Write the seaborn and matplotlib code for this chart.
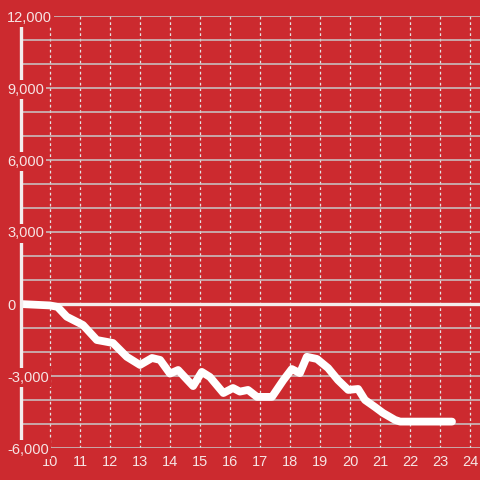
import matplotlib
matplotlib.use("Agg")
import matplotlib.pyplot as plt
import seaborn as sns
import pandas as pd
import numpy as np

# values
hours = [9.0, 10.0, 10.25, 10.56, 11.1, 11.56, 12.1, 12.56, 13.0, 13.4, 13.67,
         14.0, 14.27, 14.77, 15.06, 15.33, 15.78, 16.1, 16.33, 16.6, 16.9,
         17.4, 17.78, 18.06, 18.33, 18.56, 18.9, 19.27, 19.6, 19.94, 20.27,
         20.5, 20.83, 21.1, 21.5, 21.67, 23.4]
balance = [0, -60, -120, -530, -875, -1500, -1625, -2200, -2540, -2250, -2330,
           -2900, -2750, -3420, -2830, -3040, -3710, -3500, -3650, -3580, -3870,
           -3870, -3170, -2710, -2880, -2200, -2290, -2670, -3170, -3580, -3540,
           -4000, -4290, -4540, -4830, -4900, -4900]
x_ticks = list(range(10, 25))
y_ticks = [-6000, -3000, 0, 3000, 6000, 9000, 12000]

bg = "#cc2a2f"
txt = "#f6e4e4"

df = pd.DataFrame({"hour": hours, "balance": balance})

sns.set_style("white")
plt.rcParams["font.family"] = ["Liberation Sans", "DejaVu Sans"]

fig = plt.figure(figsize=(4.8, 4.8), dpi=100, facecolor=bg)
ax = fig.add_axes([20 / 480, 1 - 448 / 480, 1 - 20 / 480, 432 / 480])
ax.set_facecolor(bg)

# horizontal grid every 1000
for v in np.arange(-6000, 12001, 1000):
    ax.axhline(v, color="#c9c9c9", lw=1.1, zorder=0.6)
ax.axhline(0, color="#f3eded", lw=2.4, zorder=1.5)

sns.lineplot(data=df, x="hour", y="balance", color="white", lw=5.6,
             ax=ax, zorder=2)

ax.set_xlim(9, 9 + 460 / 30)
ax.set_ylim(-6000, 12000)
ax.set_xticks(x_ticks)
ax.set_yticks(y_ticks)
ax.set_yticklabels([f"{v:,}" for v in y_ticks])
ax.set_xlabel("")
ax.set_ylabel("")

ax.set_axisbelow(True)
ax.grid(axis="x", color="#e4e4e4", lw=0.9, linestyle=(0, (2.2, 2.2)))
ax.grid(axis="y", visible=False)

for s in ["top", "right", "bottom"]:
    ax.spines[s].set_visible(False)
ax.spines["left"].set_color("#f3eded")
ax.spines["left"].set_linewidth(2.4)
ax.spines["left"].set_position(("outward", -0.8))

ax.tick_params(axis="x", length=0, pad=5, labelsize=10.5, labelcolor=txt)
ax.tick_params(axis="y", length=0, pad=10, labelsize=10.5, labelcolor=txt)
for lab in ax.get_yticklabels():
    lab.set_horizontalalignment("left")
    lab.set_bbox(dict(facecolor=bg, edgecolor="none", pad=1.5))
ax.yaxis.set_zorder(5)

fig.savefig("out.png", dpi=100, facecolor=bg)
